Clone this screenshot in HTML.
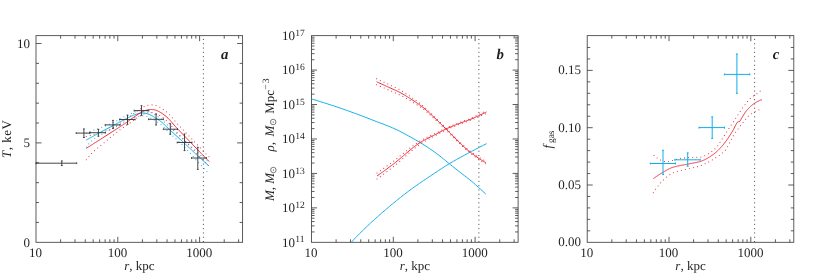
<!DOCTYPE html>
<html><head><meta charset="utf-8"><title>Profiles</title>
<style>
html,body{margin:0;padding:0;background:#fff;}
body{width:830px;height:279px;overflow:hidden;font-family:"Liberation Serif",serif;}
svg{display:block;will-change:transform;}
svg text{text-rendering:geometricPrecision;font-family:"Liberation Serif",serif;font-size:13px;fill:#231f20;}
</style></head><body>
<svg width="830" height="279" viewBox="0 0 830 279">
<rect width="830" height="279" fill="#fff"/>
<rect x="36" y="35.65" width="206.6" height="206.65" fill="none" stroke="#404040" stroke-width="0.85"/>
<path d="M60.62 35.65v3.0M60.62 242.3v-3.0M75.03 35.65v3.0M75.03 242.3v-3.0M85.25 35.65v3.0M85.25 242.3v-3.0M93.18 35.65v3.0M93.18 242.3v-3.0M99.65 35.65v3.0M99.65 242.3v-3.0M105.13 35.65v3.0M105.13 242.3v-3.0M109.87 35.65v3.0M109.87 242.3v-3.0M114.06 35.65v3.0M114.06 242.3v-3.0M117.8 35.65v5.5M117.8 242.3v-5.5M142.42 35.65v3.0M142.42 242.3v-3.0M156.83 35.65v3.0M156.83 242.3v-3.0M167.05 35.65v3.0M167.05 242.3v-3.0M174.98 35.65v3.0M174.98 242.3v-3.0M181.45 35.65v3.0M181.45 242.3v-3.0M186.93 35.65v3.0M186.93 242.3v-3.0M191.67 35.65v3.0M191.67 242.3v-3.0M195.86 35.65v3.0M195.86 242.3v-3.0M199.6 35.65v5.5M199.6 242.3v-5.5M224.22 35.65v3.0M224.22 242.3v-3.0M238.63 35.65v3.0M238.63 242.3v-3.0" stroke="#404040" stroke-width="0.85" fill="none"/>
<text x="35.6" y="256.5" text-anchor="middle">10</text>
<text x="117.4" y="256.5" text-anchor="middle">100</text>
<text x="199.2" y="256.5" text-anchor="middle">1000</text>
<text x="139.3" y="270.3" text-anchor="middle"><tspan font-style="italic">r</tspan>, kpc</text>
<line x1="203.4" y1="38.95" x2="203.4" y2="242.3" stroke="#444" stroke-width="1" stroke-dasharray="1 3.3"/>
<path d="M36 142.9h5.5M242.6 142.9h-5.5M36 43.5h5.5M242.6 43.5h-5.5M36 222.42h3M242.6 222.42h-3M36 202.54h3M242.6 202.54h-3M36 182.66h3M242.6 182.66h-3M36 162.78h3M242.6 162.78h-3M36 123.02h3M242.6 123.02h-3M36 103.14h3M242.6 103.14h-3M36 83.26h3M242.6 83.26h-3M36 63.38h3M242.6 63.38h-3" stroke="#404040" stroke-width="0.85" fill="none"/>
<text x="30.1" y="47.9" text-anchor="end">10</text>
<text x="30.1" y="246.7" text-anchor="end">0</text>
<text x="30.1" y="147.3" text-anchor="end">5</text>
<text transform="translate(10.8 138.9) rotate(-90)" text-anchor="middle" style="letter-spacing:0.5px"><tspan font-style="italic">T</tspan>, keV</text>
<text x="221" y="58.8" style="font-size:14.8px;font-style:italic;font-weight:bold">a</text>
<path d="M86.3 133.15 L87.33 132.72 L88.36 132.29 L89.39 131.87 L90.42 131.46 L91.46 131.04 L92.49 130.64 L93.52 130.24 L94.55 129.87 L95.58 129.54 L96.61 129.21 L97.64 128.89 L98.67 128.56 L99.7 128.24 L100.74 127.92 L101.77 127.61 L102.8 127.18 L103.83 126.72 L104.86 126.26 L105.89 125.8 L106.92 125.34 L107.95 124.88 L108.98 124.42 L110.02 123.96 L111.05 123.5 L112.08 123.05 L113.11 122.59 L114.14 122.13 L115.17 121.65 L116.2 121.11 L117.23 120.57 L118.26 120.03 L119.29 119.48 L120.33 118.94 L121.36 118.39 L122.39 117.85 L123.42 117.31 L124.45 116.77 L125.48 116.25 L126.51 115.73 L127.54 115.22 L128.57 114.72 L129.61 114.24 L130.64 113.77 L131.67 113.31 L132.7 112.87 L133.73 112.46 L134.76 112.07 L135.79 111.7 L136.82 111.37 L137.85 111.07 L138.89 110.81 L139.92 110.6 L140.95 110.45 L141.98 110.36 L143.01 110.34 L144.04 110.41 L145.07 110.55 L146.1 110.78 L147.13 111.07 L148.17 111.43 L149.2 111.85 L150.23 112.32 L151.26 112.81 L152.29 113.35 L153.32 113.93 L154.35 114.53 L155.38 115.14 L156.41 115.78 L157.45 116.42 L158.48 117.08 L159.51 117.78 L160.54 118.52 L161.57 119.32 L162.6 120.19 L163.63 121.12 L164.66 122.09 L165.69 123.09 L166.73 124.1 L167.76 125.1 L168.79 126.08 L169.82 127.04 L170.85 127.97 L171.88 128.89 L172.91 129.79 L173.94 130.7 L174.97 131.6 L176.01 132.51 L177.04 133.43 L178.07 134.35 L179.1 135.28 L180.13 136.21 L181.16 137.15 L182.19 138.09 L183.22 139.04 L184.25 139.98 L185.28 140.93 L186.32 141.89 L187.35 142.84 L188.38 143.8 L189.41 144.75 L190.44 145.71 L191.47 146.66 L192.5 147.62 L193.53 148.57 L194.56 149.53 L195.6 150.48 L196.63 151.42 L197.66 152.37 L198.69 153.31 L199.72 154.25 L200.75 155.18 L201.78 156.11 L202.81 157.03 L203.84 157.94 L204.88 158.85 L205.91 159.75 L206.94 160.65 L207.97 161.54 L209 162.41" fill="none" stroke="#0fafec" stroke-width="1.08" stroke-dasharray="0.01 4.1" stroke-linecap="round"/>
<path d="M86.3 147.18 L87.33 145.8 L88.36 144.44 L89.39 143.35 L90.42 142.29 L91.46 141.23 L92.49 140.27 L93.52 139.34 L94.55 138.41 L95.58 137.68 L96.61 137.12 L97.64 136.57 L98.67 136.01 L99.7 135.46 L100.74 134.91 L101.77 134.36 L102.8 133.81 L103.83 133.26 L104.86 132.72 L105.89 132.17 L106.92 131.62 L107.95 131.08 L108.98 130.53 L110.02 129.99 L111.05 129.44 L112.08 128.89 L113.11 128.35 L114.14 127.8 L115.17 127.25 L116.2 126.7 L117.23 126.16 L118.26 125.61 L119.29 125.06 L120.33 124.5 L121.36 123.95 L122.39 123.41 L123.42 122.86 L124.45 122.32 L125.48 121.79 L126.51 121.26 L127.54 120.75 L128.57 120.24 L129.61 119.75 L130.64 119.28 L131.67 118.82 L132.7 118.37 L133.73 117.95 L134.76 117.55 L135.79 117.18 L136.82 116.84 L137.85 116.54 L138.89 116.28 L139.92 116.06 L140.95 115.9 L141.98 115.81 L143.01 115.78 L144.04 115.84 L145.07 115.98 L146.1 116.2 L147.13 116.49 L148.17 116.84 L149.2 117.25 L150.23 117.73 L151.26 118.26 L152.29 118.83 L153.32 119.44 L154.35 120.08 L155.38 120.73 L156.41 121.4 L157.45 122.08 L158.48 122.78 L159.51 123.51 L160.54 124.29 L161.57 125.12 L162.6 126.03 L163.63 127 L164.66 128 L165.69 129.04 L166.73 130.08 L167.76 131.12 L168.79 132.14 L169.82 133.13 L170.85 134.1 L171.88 135.05 L172.91 136 L173.94 136.94 L174.97 137.88 L176.01 138.82 L177.04 139.77 L178.07 140.73 L179.1 141.7 L180.13 142.67 L181.16 143.64 L182.19 144.62 L183.22 145.6 L184.25 146.58 L185.28 147.62 L186.32 148.78 L187.35 149.94 L188.38 151.11 L189.41 152.27 L190.44 153.44 L191.47 154.6 L192.5 155.76 L193.53 156.93 L194.56 158.09 L195.6 159.25 L196.63 160.4 L197.66 161.56 L198.69 162.71 L199.72 163.85 L200.75 164.99 L201.78 166.13 L202.81 167.26 L203.84 168.38 L204.88 169.5 L205.91 170.61 L206.94 171.72 L207.97 172.81 L209 173.9" fill="none" stroke="#0fafec" stroke-width="1.08" stroke-dasharray="0.01 4.1" stroke-linecap="round"/>
<path d="M86.3 136.51 L87.33 136.21 L88.37 135.91 L89.4 135.61 L90.44 135.31 L91.47 135.02 L92.51 134.72 L93.54 134.43 L94.58 134.13 L95.61 133.84 L96.64 133.55 L97.68 133.26 L98.71 132.96 L99.75 132.67 L100.78 132.36 L101.82 132.04 L102.85 131.73 L103.89 131.41 L104.92 131.1 L105.95 130.78 L106.99 130.46 L108.02 130.15 L109.06 129.81 L110.09 129.2 L111.13 128.59 L112.16 127.98 L113.2 127.37 L114.23 126.76 L115.26 126.14 L116.3 125.53 L117.33 124.91 L118.37 124.29 L119.4 123.67 L120.44 123.05 L121.47 122.42 L122.51 121.78 L123.54 121.14 L124.57 120.5 L125.61 119.78 L126.64 119.01 L127.68 118.22 L128.71 117.44 L129.75 116.64 L130.78 115.84 L131.82 115.04 L132.85 114.25 L133.88 113.46 L134.92 112.67 L135.95 111.9 L136.99 111.13 L138.02 110.39 L139.06 109.67 L140.09 108.97 L141.13 108.32 L142.16 107.7 L143.19 107.14 L144.23 106.63 L145.26 106.18 L146.3 105.79 L147.33 105.47 L148.37 105.21 L149.4 105.02 L150.44 104.9 L151.47 104.87 L152.51 104.91 L153.54 105.02 L154.57 105.2 L155.61 105.46 L156.64 105.8 L157.68 106.21 L158.71 106.68 L159.75 107.22 L160.78 107.81 L161.82 108.44 L162.85 109.11 L163.88 109.83 L164.92 110.6 L165.95 111.42 L166.99 112.31 L168.02 113.26 L169.06 114.29 L170.09 115.38 L171.13 116.55 L172.16 117.75 L173.19 118.97 L174.23 120.18 L175.26 121.39 L176.3 122.57 L177.33 123.72 L178.37 124.83 L179.4 125.9 L180.44 126.98 L181.47 128.05 L182.5 129.13 L183.54 130.21 L184.57 131.3 L185.61 132.39 L186.64 133.48 L187.68 134.57 L188.71 135.66 L189.75 136.75 L190.78 137.85 L191.81 138.94 L192.85 140.04 L193.88 141.13 L194.92 142.23 L195.95 143.32 L196.99 144.41 L198.02 145.49 L199.06 146.58 L200.09 147.66 L201.12 148.74 L202.16 149.81 L203.19 150.88 L204.23 151.95 L205.26 153.01 L206.3 154.06 L207.33 155.11 L208.37 156.16 L209.4 157.19" fill="none" stroke="#ee2b38" stroke-width="1.08" stroke-dasharray="0.01 4.1" stroke-linecap="round"/>
<path d="M86.3 159.74 L87.33 158.53 L88.37 157.31 L89.4 156.1 L90.44 154.88 L91.47 153.67 L92.51 152.46 L93.54 151.44 L94.58 150.58 L95.61 149.73 L96.64 148.88 L97.68 148.03 L98.71 147.17 L99.75 146.32 L100.78 145.47 L101.82 144.62 L102.85 143.77 L103.89 142.92 L104.92 142.07 L105.95 141.22 L106.99 140.36 L108.02 139.51 L109.06 138.66 L110.09 137.8 L111.13 136.95 L112.16 136.09 L113.2 135.24 L114.23 134.38 L115.26 133.52 L116.3 132.67 L117.33 131.81 L118.37 130.94 L119.4 130.15 L120.44 129.48 L121.47 128.79 L122.51 128.11 L123.54 127.42 L124.57 126.72 L125.61 126.01 L126.64 125.3 L127.68 124.57 L128.71 123.84 L129.75 123.11 L130.78 122.37 L131.82 121.63 L132.85 120.89 L133.88 120.15 L134.92 119.43 L135.95 118.71 L136.99 118.01 L138.02 117.32 L139.06 116.65 L140.09 116.02 L141.13 115.42 L142.16 114.86 L143.19 114.36 L144.23 113.91 L145.26 113.52 L146.3 113.19 L147.33 112.92 L148.37 112.72 L149.4 112.58 L150.44 112.53 L151.47 112.58 L152.51 112.69 L153.54 112.87 L154.57 113.13 L155.61 113.45 L156.64 113.86 L157.68 114.34 L158.71 114.89 L159.75 115.5 L160.78 116.16 L161.82 116.87 L162.85 117.61 L163.88 118.4 L164.92 119.24 L165.95 120.14 L166.99 121.1 L168.02 122.13 L169.06 123.22 L170.09 124.38 L171.13 125.56 L172.16 126.78 L173.19 128.01 L174.23 129.24 L175.26 130.45 L176.3 131.65 L177.33 132.81 L178.37 133.93 L179.4 135.02 L180.44 136.11 L181.47 137.19 L182.5 138.29 L183.54 139.38 L184.57 140.48 L185.61 141.58 L186.64 142.68 L187.68 143.79 L188.71 144.89 L189.75 146 L190.78 147.11 L191.81 148.22 L192.85 149.32 L193.88 150.43 L194.92 151.54 L195.95 152.64 L196.99 153.74 L198.02 154.84 L199.06 155.94 L200.09 157.04 L201.12 158.13 L202.16 159.21 L203.19 160.3 L204.23 161.38 L205.26 162.45 L206.3 163.52 L207.33 164.58 L208.37 165.64 L209.4 166.69" fill="none" stroke="#ee2b38" stroke-width="1.08" stroke-dasharray="0.01 4.1" stroke-linecap="round"/>
<path d="M86.3 140.1 L87.33 139.5 L88.36 138.91 L89.39 138.32 L90.42 137.74 L91.46 137.16 L92.49 136.58 L93.52 136.01 L94.55 135.45 L95.58 134.88 L96.61 134.32 L97.64 133.77 L98.67 133.21 L99.7 132.66 L100.74 132.11 L101.77 131.56 L102.8 131.01 L103.83 130.46 L104.86 129.92 L105.89 129.37 L106.92 128.82 L107.95 128.28 L108.98 127.73 L110.02 127.19 L111.05 126.64 L112.08 126.09 L113.11 125.55 L114.14 125 L115.17 124.45 L116.2 123.9 L117.23 123.36 L118.26 122.81 L119.29 122.26 L120.33 121.7 L121.36 121.15 L122.39 120.61 L123.42 120.06 L124.45 119.52 L125.48 118.99 L126.51 118.46 L127.54 117.95 L128.57 117.44 L129.61 116.95 L130.64 116.48 L131.67 116.02 L132.7 115.57 L133.73 115.15 L134.76 114.75 L135.79 114.38 L136.82 114.04 L137.85 113.74 L138.89 113.48 L139.92 113.26 L140.95 113.1 L141.98 113.01 L143.01 112.98 L144.04 113.04 L145.07 113.18 L146.1 113.4 L147.13 113.69 L148.17 114.04 L149.2 114.45 L150.23 114.92 L151.26 115.43 L152.29 115.99 L153.32 116.58 L154.35 117.19 L155.38 117.83 L156.41 118.47 L157.45 119.13 L158.48 119.81 L159.51 120.52 L160.54 121.28 L161.57 122.09 L162.6 122.98 L163.63 123.92 L164.66 124.91 L165.69 125.93 L166.73 126.95 L167.76 127.97 L168.79 128.96 L169.82 129.93 L170.85 130.88 L171.88 131.82 L172.91 132.74 L173.94 133.66 L174.97 134.58 L176.01 135.5 L177.04 136.43 L178.07 137.37 L179.1 138.32 L180.13 139.26 L181.16 140.22 L182.19 141.17 L183.22 142.13 L184.25 143.1 L185.28 144.06 L186.32 145.03 L187.35 146 L188.38 146.97 L189.41 147.94 L190.44 148.92 L191.47 149.89 L192.5 150.86 L193.53 151.83 L194.56 152.79 L195.6 153.76 L196.63 154.72 L197.66 155.68 L198.69 156.64 L199.72 157.59 L200.75 158.54 L201.78 159.48 L202.81 160.42 L203.84 161.35 L204.88 162.28 L205.91 163.19 L206.94 164.1 L207.97 165.01 L209 165.9" fill="none" stroke="#0fafec" stroke-width="1.0" stroke-linejoin="round"/>
<path d="M86.3 148.4 L87.33 147.73 L88.37 147.06 L89.4 146.4 L90.44 145.73 L91.47 145.06 L92.51 144.4 L93.54 143.73 L94.58 143.07 L95.61 142.41 L96.64 141.75 L97.68 141.08 L98.71 140.42 L99.75 139.76 L100.78 139.1 L101.82 138.44 L102.85 137.78 L103.89 137.12 L104.92 136.46 L105.95 135.8 L106.99 135.13 L108.02 134.47 L109.06 133.81 L110.09 133.15 L111.13 132.49 L112.16 131.82 L113.2 131.16 L114.23 130.49 L115.26 129.83 L116.3 129.16 L117.33 128.5 L118.37 127.83 L119.4 127.15 L120.44 126.48 L121.47 125.79 L122.51 125.11 L123.54 124.42 L124.57 123.72 L125.61 123.01 L126.64 122.3 L127.68 121.57 L128.71 120.84 L129.75 120.11 L130.78 119.37 L131.82 118.63 L132.85 117.89 L133.88 117.15 L134.92 116.43 L135.95 115.71 L136.99 115.01 L138.02 114.32 L139.06 113.65 L140.09 113.02 L141.13 112.42 L142.16 111.86 L143.19 111.36 L144.23 110.91 L145.26 110.52 L146.3 110.19 L147.33 109.92 L148.37 109.72 L149.4 109.58 L150.44 109.51 L151.47 109.5 L152.51 109.56 L153.54 109.69 L154.57 109.9 L155.61 110.17 L156.64 110.53 L157.68 110.96 L158.71 111.46 L159.75 112.01 L160.78 112.62 L161.82 113.27 L162.85 113.97 L163.88 114.71 L164.92 115.5 L165.95 116.34 L166.99 117.25 L168.02 118.22 L169.06 119.27 L170.09 120.38 L171.13 121.54 L172.16 122.72 L173.19 123.93 L174.23 125.13 L175.26 126.32 L176.3 127.49 L177.33 128.63 L178.37 129.72 L179.4 130.79 L180.44 131.85 L181.47 132.91 L182.5 133.97 L183.54 135.04 L184.57 136.12 L185.61 137.19 L186.64 138.27 L187.68 139.35 L188.71 140.43 L189.75 141.51 L190.78 142.59 L191.81 143.67 L192.85 144.75 L193.88 145.83 L194.92 146.91 L195.95 147.99 L196.99 149.07 L198.02 150.14 L199.06 151.22 L200.09 152.28 L201.12 153.35 L202.16 154.41 L203.19 155.47 L204.23 156.52 L205.26 157.57 L206.3 158.61 L207.33 159.65 L208.37 160.68 L209.4 161.7" fill="none" stroke="#ee2b38" stroke-width="1.0" stroke-linejoin="round"/>
<path d="M36 163.2H76.7M61.8 160.9V165.6M60.9 160.9h1.8M60.9 165.6h1.8M36 162.3v1.8M76.7 162.3v1.8" fill="none" stroke="#333" stroke-width="0.9"/>
<path d="M76.2 133.1H89.8M83.9 128.9V137.5M83 128.9h1.8M83 137.5h1.8M76.2 132.2v1.8M89.8 132.2v1.8" fill="none" stroke="#333" stroke-width="0.9"/>
<path d="M89.8 132.7H105.3M98.4 129.4V136.2M97.5 129.4h1.8M97.5 136.2h1.8M89.8 131.8v1.8M105.3 131.8v1.8" fill="none" stroke="#333" stroke-width="0.9"/>
<path d="M105.2 124.9H120M113 120.4V128.4M112.1 120.4h1.8M112.1 128.4h1.8M105.2 124v1.8M120 124v1.8" fill="none" stroke="#333" stroke-width="0.9"/>
<path d="M119.6 119.5H135.1M127.5 115.2V124.3M126.6 115.2h1.8M126.6 124.3h1.8M119.6 118.6v1.8M135.1 118.6v1.8" fill="none" stroke="#333" stroke-width="0.9"/>
<path d="M134.2 110.6H148.8M141.5 105.7V115.4M140.6 105.7h1.8M140.6 115.4h1.8M134.2 109.7v1.8M148.8 109.7v1.8" fill="none" stroke="#333" stroke-width="0.9"/>
<path d="M148.6 119.3H163.4M156.1 114.1V125M155.2 114.1h1.8M155.2 125h1.8M148.6 118.4v1.8M163.4 118.4v1.8" fill="none" stroke="#333" stroke-width="0.9"/>
<path d="M163.4 129.2H177.5M170.3 123.7V134.4M169.4 123.7h1.8M169.4 134.4h1.8M163.4 128.3v1.8M177.5 128.3v1.8" fill="none" stroke="#333" stroke-width="0.9"/>
<path d="M177.2 142.5H192M184.5 134V150.6M183.6 134h1.8M183.6 150.6h1.8M177.2 141.6v1.8M192 141.6v1.8" fill="none" stroke="#333" stroke-width="0.9"/>
<path d="M191.5 158H206.4M197.8 147.3V169.4M196.9 147.3h1.8M196.9 169.4h1.8M191.5 157.1v1.8M206.4 157.1v1.8" fill="none" stroke="#333" stroke-width="0.9"/>
<rect x="311.5" y="35.65" width="206.6" height="206.65" fill="none" stroke="#404040" stroke-width="0.85"/>
<path d="M336.12 35.65v3.0M336.12 242.3v-3.0M350.53 35.65v3.0M350.53 242.3v-3.0M360.75 35.65v3.0M360.75 242.3v-3.0M368.68 35.65v3.0M368.68 242.3v-3.0M375.15 35.65v3.0M375.15 242.3v-3.0M380.63 35.65v3.0M380.63 242.3v-3.0M385.37 35.65v3.0M385.37 242.3v-3.0M389.56 35.65v3.0M389.56 242.3v-3.0M393.3 35.65v5.5M393.3 242.3v-5.5M417.92 35.65v3.0M417.92 242.3v-3.0M432.33 35.65v3.0M432.33 242.3v-3.0M442.55 35.65v3.0M442.55 242.3v-3.0M450.48 35.65v3.0M450.48 242.3v-3.0M456.95 35.65v3.0M456.95 242.3v-3.0M462.43 35.65v3.0M462.43 242.3v-3.0M467.17 35.65v3.0M467.17 242.3v-3.0M471.36 35.65v3.0M471.36 242.3v-3.0M475.1 35.65v5.5M475.1 242.3v-5.5M499.72 35.65v3.0M499.72 242.3v-3.0M514.13 35.65v3.0M514.13 242.3v-3.0" stroke="#404040" stroke-width="0.85" fill="none"/>
<text x="311.1" y="256.5" text-anchor="middle">10</text>
<text x="392.9" y="256.5" text-anchor="middle">100</text>
<text x="474.7" y="256.5" text-anchor="middle">1000</text>
<text x="414.8" y="270.3" text-anchor="middle"><tspan font-style="italic">r</tspan>, kpc</text>
<line x1="478.9" y1="38.95" x2="478.9" y2="242.3" stroke="#444" stroke-width="1" stroke-dasharray="1 3.3"/>
<path d="M311.5 207.86h5.5M518.1 207.86h-5.5M311.5 173.42h5.5M518.1 173.42h-5.5M311.5 138.97h5.5M518.1 138.97h-5.5M311.5 104.53h5.5M518.1 104.53h-5.5M311.5 70.09h5.5M518.1 70.09h-5.5M311.5 231.93h3M518.1 231.93h-3M311.5 225.87h3M518.1 225.87h-3M311.5 221.56h3M518.1 221.56h-3M311.5 218.23h3M518.1 218.23h-3M311.5 215.5h3M518.1 215.5h-3M311.5 213.19h3M518.1 213.19h-3M311.5 211.2h3M518.1 211.2h-3M311.5 209.43h3M518.1 209.43h-3M311.5 197.49h3M518.1 197.49h-3M311.5 191.43h3M518.1 191.43h-3M311.5 187.12h3M518.1 187.12h-3M311.5 183.78h3M518.1 183.78h-3M311.5 181.06h3M518.1 181.06h-3M311.5 178.75h3M518.1 178.75h-3M311.5 176.75h3M518.1 176.75h-3M311.5 174.99h3M518.1 174.99h-3M311.5 163.05h3M518.1 163.05h-3M311.5 156.98h3M518.1 156.98h-3M311.5 152.68h3M518.1 152.68h-3M311.5 149.34h3M518.1 149.34h-3M311.5 146.62h3M518.1 146.62h-3M311.5 144.31h3M518.1 144.31h-3M311.5 142.31h3M518.1 142.31h-3M311.5 140.55h3M518.1 140.55h-3M311.5 128.61h3M518.1 128.61h-3M311.5 122.54h3M518.1 122.54h-3M311.5 118.24h3M518.1 118.24h-3M311.5 114.9h3M518.1 114.9h-3M311.5 112.17h3M518.1 112.17h-3M311.5 109.87h3M518.1 109.87h-3M311.5 107.87h3M518.1 107.87h-3M311.5 106.11h3M518.1 106.11h-3M311.5 94.17h3M518.1 94.17h-3M311.5 88.1h3M518.1 88.1h-3M311.5 83.8h3M518.1 83.8h-3M311.5 80.46h3M518.1 80.46h-3M311.5 77.73h3M518.1 77.73h-3M311.5 75.43h3M518.1 75.43h-3M311.5 73.43h3M518.1 73.43h-3M311.5 71.67h3M518.1 71.67h-3M311.5 59.72h3M518.1 59.72h-3M311.5 53.66h3M518.1 53.66h-3M311.5 49.36h3M518.1 49.36h-3M311.5 46.02h3M518.1 46.02h-3M311.5 43.29h3M518.1 43.29h-3M311.5 40.99h3M518.1 40.99h-3M311.5 38.99h3M518.1 38.99h-3M311.5 37.23h3M518.1 37.23h-3" stroke="#404040" stroke-width="0.85" fill="none"/>
<text x="294.9" y="246.5" text-anchor="end">10</text><text x="295.2" y="242.4" style="font-size:9.6px">11</text>
<text x="294.9" y="212.06" text-anchor="end">10</text><text x="295.2" y="207.96" style="font-size:9.6px">12</text>
<text x="294.9" y="177.62" text-anchor="end">10</text><text x="295.2" y="173.52" style="font-size:9.6px">13</text>
<text x="294.9" y="143.17" text-anchor="end">10</text><text x="295.2" y="139.07" style="font-size:9.6px">14</text>
<text x="294.9" y="108.73" text-anchor="end">10</text><text x="295.2" y="104.63" style="font-size:9.6px">15</text>
<text x="294.9" y="74.29" text-anchor="end">10</text><text x="295.2" y="70.19" style="font-size:9.6px">16</text>
<text x="294.9" y="39.85" text-anchor="end">10</text><text x="295.2" y="35.75" style="font-size:9.6px">17</text>
<g transform="translate(274.0 0) rotate(-90)"><text x="-201" y="0" ><tspan font-style="italic">M</tspan>, <tspan font-style="italic">M</tspan></text><text x="-151.4" y="0" ><tspan font-style="italic">ρ</tspan>,</text><text x="-136.6" y="0" ><tspan font-style="italic">M</tspan></text><text x="-113.8" y="0" >Mpc</text><text x="-89.8" y="-4.6" style="font-size:9.6px">−</text><text x="-83.2" y="-4.6" style="font-size:9.6px">3</text></g>
<circle cx="273.4" cy="170" r="2.75" fill="none" stroke="#231f20" stroke-width="0.6"/><circle cx="273.4" cy="170" r="0.6" fill="#231f20"/>
<circle cx="273.2" cy="122" r="2.75" fill="none" stroke="#231f20" stroke-width="0.6"/><circle cx="273.2" cy="122" r="0.6" fill="#231f20"/>
<text x="496.5" y="58.8" style="font-size:14.8px;font-style:italic;font-weight:bold">b</text>
<path d="M311.5 99 L313.26 99.51 L315.02 100.03 L316.78 100.56 L318.54 101.09 L320.3 101.63 L322.06 102.17 L323.82 102.72 L325.58 103.27 L327.35 103.83 L329.11 104.4 L330.87 104.97 L332.63 105.54 L334.39 106.12 L336.15 106.71 L337.91 107.31 L339.67 107.91 L341.43 108.52 L343.19 109.13 L344.95 109.75 L346.71 110.37 L348.47 111 L350.23 111.63 L351.99 112.27 L353.75 112.91 L355.52 113.56 L357.28 114.21 L359.04 114.87 L360.8 115.53 L362.56 116.2 L364.32 116.87 L366.08 117.55 L367.84 118.23 L369.6 118.91 L371.36 119.59 L373.12 120.28 L374.88 120.96 L376.64 121.64 L378.4 122.31 L380.16 122.97 L381.92 123.63 L383.68 124.29 L385.45 124.96 L387.21 125.65 L388.97 126.35 L390.73 127.08 L392.49 127.84 L394.25 128.63 L396.01 129.45 L397.77 130.29 L399.53 131.16 L401.29 132.05 L403.05 132.96 L404.81 133.89 L406.57 134.83 L408.33 135.8 L410.09 136.78 L411.85 137.78 L413.62 138.79 L415.38 139.81 L417.14 140.84 L418.9 141.88 L420.66 142.93 L422.42 144.01 L424.18 145.1 L425.94 146.22 L427.7 147.36 L429.46 148.53 L431.22 149.72 L432.98 150.94 L434.74 152.18 L436.5 153.45 L438.26 154.77 L440.02 156.14 L441.78 157.55 L443.55 158.99 L445.31 160.44 L447.07 161.89 L448.83 163.32 L450.59 164.73 L452.35 166.15 L454.11 167.57 L455.87 168.99 L457.63 170.39 L459.39 171.76 L461.15 173.11 L462.91 174.45 L464.67 175.78 L466.43 177.13 L468.19 178.5 L469.95 179.91 L471.72 181.37 L473.48 182.89 L475.24 184.45 L477 186.03 L478.76 187.61 L480.52 189.21 L482.28 190.82 L484.04 192.45 L485.8 194.1" fill="none" stroke="#0fafec" stroke-width="1.0" stroke-linejoin="round"/>
<path d="M351.3 242.3 L352.67 240.83 L354.03 239.37 L355.4 237.92 L356.76 236.5 L358.13 235.09 L359.49 233.71 L360.86 232.35 L362.23 231 L363.59 229.68 L364.96 228.36 L366.32 227.06 L367.69 225.78 L369.05 224.5 L370.42 223.24 L371.78 221.98 L373.15 220.73 L374.52 219.49 L375.88 218.26 L377.25 217.03 L378.61 215.81 L379.98 214.6 L381.34 213.4 L382.71 212.21 L384.08 211.03 L385.44 209.85 L386.81 208.68 L388.17 207.52 L389.54 206.37 L390.9 205.23 L392.27 204.09 L393.64 202.96 L395 201.83 L396.37 200.71 L397.73 199.6 L399.1 198.5 L400.46 197.41 L401.83 196.33 L403.19 195.26 L404.56 194.2 L405.93 193.16 L407.29 192.13 L408.66 191.11 L410.02 190.11 L411.39 189.12 L412.75 188.13 L414.12 187.16 L415.49 186.19 L416.85 185.23 L418.22 184.28 L419.58 183.32 L420.95 182.37 L422.31 181.43 L423.68 180.49 L425.05 179.56 L426.41 178.63 L427.78 177.71 L429.14 176.79 L430.51 175.88 L431.87 174.97 L433.24 174.06 L434.61 173.16 L435.97 172.26 L437.34 171.36 L438.7 170.46 L440.07 169.56 L441.43 168.66 L442.8 167.77 L444.16 166.89 L445.53 166.02 L446.9 165.17 L448.26 164.33 L449.63 163.5 L450.99 162.7 L452.36 161.9 L453.72 161.11 L455.09 160.33 L456.46 159.57 L457.82 158.8 L459.19 158.05 L460.55 157.3 L461.92 156.56 L463.28 155.82 L464.65 155.08 L466.02 154.35 L467.38 153.62 L468.75 152.89 L470.11 152.17 L471.48 151.44 L472.84 150.72 L474.21 150 L475.57 149.28 L476.94 148.57 L478.31 147.86 L479.67 147.16 L481.04 146.46 L482.4 145.76 L483.77 145.07 L485.13 144.38 L486.5 143.7" fill="none" stroke="#0fafec" stroke-width="1.0" stroke-linejoin="round"/>
<path d="M376.6 78.81 L377.7 79.32 L378.81 79.82 L379.91 80.33 L381.01 80.85 L382.12 81.36 L383.22 81.87 L384.32 82.39 L385.42 82.91 L386.53 83.43 L387.63 83.95 L388.73 84.47 L389.84 85 L390.94 85.52 L392.04 86.04 L393.15 86.56 L394.25 87.07 L395.35 87.58 L396.45 88.11 L397.56 88.64 L398.66 89.19 L399.76 89.77 L400.87 90.4 L401.97 91.06 L403.07 91.74 L404.18 92.44 L405.28 93.16 L406.38 93.9 L407.48 94.64 L408.59 95.4 L409.69 96.16 L410.79 96.93 L411.9 97.7 L413 98.48 L414.1 99.25 L415.21 100.03 L416.31 100.81 L417.41 101.61 L418.52 102.41 L419.62 103.24 L420.72 104.07 L421.82 104.92 L422.93 105.8 L424.03 106.71 L425.13 107.66 L426.24 108.65 L427.34 109.67 L428.44 110.71 L429.55 111.77 L430.65 112.85 L431.75 113.93 L432.85 115.01 L433.96 116.08 L435.06 117.15 L436.16 118.23 L437.27 119.32 L438.37 120.42 L439.47 121.52 L440.58 122.61 L441.68 123.7 L442.78 124.79 L443.88 125.89 L444.99 127 L446.09 128.11 L447.19 129.22 L448.3 130.34 L449.4 131.47 L450.5 132.59 L451.61 133.73 L452.71 134.86 L453.81 135.99 L454.92 137.11 L456.02 138.23 L457.12 139.34 L458.22 140.43 L459.33 141.52 L460.43 142.59 L461.53 143.64 L462.64 144.67 L463.74 145.68 L464.84 146.68 L465.95 147.66 L467.05 148.63 L468.15 149.57 L469.25 150.48 L470.36 151.35 L471.46 152.15 L472.56 152.95 L473.67 153.72 L474.77 154.49 L475.87 155.24 L476.98 155.98 L478.08 156.7 L479.18 157.41 L480.28 158.09 L481.39 158.76 L482.49 159.41 L483.59 160.03 L484.7 160.63 L485.8 161.21" fill="none" stroke="#ee2b38" stroke-width="1.1" stroke-dasharray="0.01 4.1" stroke-linecap="round"/>
<path d="M376.6 84.79 L377.7 85.26 L378.81 85.73 L379.91 86.2 L381.01 86.68 L382.12 87.16 L383.22 87.63 L384.32 88.11 L385.42 88.6 L386.53 89.08 L387.63 89.56 L388.73 90.05 L389.84 90.53 L390.94 91.02 L392.04 91.51 L393.15 91.99 L394.25 92.46 L395.35 92.94 L396.45 93.42 L397.56 93.92 L398.66 94.44 L399.76 94.98 L400.87 95.51 L401.97 96.06 L403.07 96.64 L404.18 97.23 L405.28 97.84 L406.38 98.46 L407.48 99.09 L408.59 99.74 L409.69 100.39 L410.79 101.05 L411.9 101.71 L413 102.38 L414.1 103.04 L415.21 103.7 L416.31 104.38 L417.41 105.06 L418.52 105.76 L419.62 106.48 L420.72 107.23 L421.82 108.01 L422.93 108.82 L424.03 109.66 L425.13 110.55 L426.24 111.47 L427.34 112.43 L428.44 113.4 L429.55 114.4 L430.65 115.41 L431.75 116.42 L432.85 117.44 L433.96 118.44 L435.06 119.45 L436.16 120.46 L437.27 121.48 L438.37 122.51 L439.47 123.55 L440.58 124.61 L441.68 125.69 L442.78 126.77 L443.88 127.87 L444.99 128.97 L446.09 130.07 L447.19 131.17 L448.3 132.28 L449.4 133.4 L450.5 134.52 L451.61 135.65 L452.71 136.77 L453.81 137.89 L454.92 139.01 L456.02 140.12 L457.12 141.22 L458.22 142.31 L459.33 143.39 L460.43 144.45 L461.53 145.49 L462.64 146.52 L463.74 147.52 L464.84 148.51 L465.95 149.49 L467.05 150.45 L468.15 151.38 L469.25 152.29 L470.36 153.17 L471.46 154.05 L472.56 154.91 L473.67 155.75 L474.77 156.59 L475.87 157.41 L476.98 158.22 L478.08 159.01 L479.18 159.78 L480.28 160.54 L481.39 161.27 L482.49 161.99 L483.59 162.68 L484.7 163.35 L485.8 163.99" fill="none" stroke="#ee2b38" stroke-width="1.1" stroke-dasharray="0.01 4.1" stroke-linecap="round"/>
<path d="M376.6 81.8 L377.7 82.29 L378.81 82.78 L379.91 83.27 L381.01 83.76 L382.12 84.26 L383.22 84.75 L384.32 85.25 L385.42 85.75 L386.53 86.25 L387.63 86.76 L388.73 87.26 L389.84 87.77 L390.94 88.27 L392.04 88.77 L393.15 89.27 L394.25 89.76 L395.35 90.26 L396.45 90.77 L397.56 91.28 L398.66 91.82 L399.76 92.37 L400.87 92.96 L401.97 93.56 L403.07 94.19 L404.18 94.84 L405.28 95.5 L406.38 96.18 L407.48 96.87 L408.59 97.57 L409.69 98.28 L410.79 98.99 L411.9 99.71 L413 100.43 L414.1 101.14 L415.21 101.87 L416.31 102.59 L417.41 103.33 L418.52 104.09 L419.62 104.86 L420.72 105.65 L421.82 106.47 L422.93 107.31 L424.03 108.18 L425.13 109.1 L426.24 110.06 L427.34 111.05 L428.44 112.06 L429.55 113.09 L430.65 114.13 L431.75 115.18 L432.85 116.22 L433.96 117.26 L435.06 118.3 L436.16 119.34 L437.27 120.4 L438.37 121.46 L439.47 122.54 L440.58 123.61 L441.68 124.69 L442.78 125.78 L443.88 126.88 L444.99 127.99 L446.09 129.09 L447.19 130.2 L448.3 131.31 L449.4 132.43 L450.5 133.56 L451.61 134.69 L452.71 135.81 L453.81 136.94 L454.92 138.06 L456.02 139.17 L457.12 140.28 L458.22 141.37 L459.33 142.45 L460.43 143.52 L461.53 144.57 L462.64 145.59 L463.74 146.6 L464.84 147.59 L465.95 148.58 L467.05 149.54 L468.15 150.48 L469.25 151.39 L470.36 152.26 L471.46 153.1 L472.56 153.93 L473.67 154.74 L474.77 155.54 L475.87 156.33 L476.98 157.1 L478.08 157.86 L479.18 158.6 L480.28 159.32 L481.39 160.02 L482.49 160.7 L483.59 161.35 L484.7 161.99 L485.8 162.6" fill="none" stroke="#ee2b38" stroke-width="1.0" stroke-linejoin="round"/>
<path d="M377 173.02 L378.11 172.26 L379.21 171.49 L380.32 170.72 L381.42 169.95 L382.53 169.18 L383.64 168.4 L384.74 167.61 L385.85 166.82 L386.95 166.03 L388.06 165.23 L389.17 164.43 L390.27 163.62 L391.38 162.81 L392.48 161.99 L393.59 161.17 L394.7 160.33 L395.8 159.47 L396.91 158.59 L398.02 157.7 L399.12 156.79 L400.23 155.88 L401.33 154.99 L402.44 154.09 L403.55 153.2 L404.65 152.3 L405.76 151.4 L406.86 150.51 L407.97 149.62 L409.08 148.74 L410.18 147.88 L411.29 147.02 L412.39 146.19 L413.5 145.37 L414.61 144.57 L415.71 143.8 L416.82 143.05 L417.92 142.33 L419.03 141.64 L420.14 140.98 L421.24 140.33 L422.35 139.71 L423.45 139.11 L424.56 138.53 L425.67 137.97 L426.77 137.42 L427.88 136.89 L428.98 136.36 L430.09 135.84 L431.2 135.32 L432.3 134.8 L433.41 134.28 L434.52 133.75 L435.62 133.22 L436.73 132.68 L437.83 132.13 L438.94 131.57 L440.05 131.01 L441.15 130.43 L442.26 129.85 L443.36 129.29 L444.47 128.74 L445.58 128.22 L446.68 127.71 L447.79 127.22 L448.89 126.74 L450 126.27 L451.11 125.8 L452.21 125.35 L453.32 124.9 L454.42 124.46 L455.53 124.03 L456.64 123.59 L457.74 123.16 L458.85 122.73 L459.95 122.31 L461.06 121.89 L462.17 121.48 L463.27 121.08 L464.38 120.69 L465.48 120.29 L466.59 119.9 L467.7 119.49 L468.8 119.08 L469.91 118.66 L471.02 118.18 L472.12 117.68 L473.23 117.17 L474.33 116.65 L475.44 116.12 L476.55 115.58 L477.65 115.03 L478.76 114.48 L479.86 113.93 L480.97 113.37 L482.08 112.81 L483.18 112.24 L484.29 111.66 L485.39 111.08 L486.5 110.5" fill="none" stroke="#ee2b38" stroke-width="1.1" stroke-dasharray="0.01 4.1" stroke-linecap="round"/>
<path d="M377 178.98 L378.11 178.19 L379.21 177.38 L380.32 176.58 L381.42 175.77 L382.53 174.96 L383.64 174.14 L384.74 173.32 L385.85 172.5 L386.95 171.67 L388.06 170.83 L389.17 169.99 L390.27 169.15 L391.38 168.3 L392.48 167.44 L393.59 166.58 L394.7 165.71 L395.8 164.81 L396.91 163.89 L398.02 162.96 L399.12 162.02 L400.23 161.06 L401.33 160.06 L402.44 159.05 L403.55 158.04 L404.65 157.03 L405.76 156.02 L406.86 155.02 L407.97 154.02 L409.08 153.03 L410.18 152.06 L411.29 151.09 L412.39 150.15 L413.5 149.22 L414.61 148.31 L415.71 147.43 L416.82 146.57 L417.92 145.74 L419.03 144.94 L420.14 144.17 L421.24 143.46 L422.35 142.77 L423.45 142.11 L424.56 141.46 L425.67 140.83 L426.77 140.22 L427.88 139.61 L428.98 139.02 L430.09 138.43 L431.2 137.85 L432.3 137.26 L433.41 136.67 L434.52 136.08 L435.62 135.48 L436.73 134.87 L437.83 134.26 L438.94 133.63 L440.05 133.01 L441.15 132.42 L442.26 131.84 L443.36 131.27 L444.47 130.71 L445.58 130.18 L446.68 129.67 L447.79 129.17 L448.89 128.68 L450 128.2 L451.11 127.73 L452.21 127.27 L453.32 126.81 L454.42 126.37 L455.53 125.92 L456.64 125.48 L457.74 125.05 L458.85 124.61 L459.95 124.17 L461.06 123.75 L462.17 123.33 L463.27 122.93 L464.38 122.52 L465.48 122.12 L466.59 121.72 L467.7 121.31 L468.8 120.89 L469.91 120.46 L471.02 120.04 L472.12 119.62 L473.23 119.18 L474.33 118.72 L475.44 118.26 L476.55 117.79 L477.65 117.31 L478.76 116.83 L479.86 116.34 L480.97 115.86 L482.08 115.36 L483.18 114.86 L484.29 114.35 L485.39 113.84 L486.5 113.3" fill="none" stroke="#ee2b38" stroke-width="1.1" stroke-dasharray="0.01 4.1" stroke-linecap="round"/>
<path d="M377 176 L378.11 175.22 L379.21 174.44 L380.32 173.65 L381.42 172.86 L382.53 172.07 L383.64 171.27 L384.74 170.47 L385.85 169.66 L386.95 168.85 L388.06 168.03 L389.17 167.21 L390.27 166.39 L391.38 165.56 L392.48 164.72 L393.59 163.88 L394.7 163.02 L395.8 162.14 L396.91 161.24 L398.02 160.33 L399.12 159.4 L400.23 158.47 L401.33 157.52 L402.44 156.57 L403.55 155.62 L404.65 154.67 L405.76 153.71 L406.86 152.76 L407.97 151.82 L409.08 150.89 L410.18 149.97 L411.29 149.06 L412.39 148.17 L413.5 147.29 L414.61 146.44 L415.71 145.61 L416.82 144.81 L417.92 144.03 L419.03 143.29 L420.14 142.58 L421.24 141.9 L422.35 141.24 L423.45 140.61 L424.56 140 L425.67 139.4 L426.77 138.82 L427.88 138.25 L428.98 137.69 L430.09 137.13 L431.2 136.58 L432.3 136.03 L433.41 135.48 L434.52 134.92 L435.62 134.35 L436.73 133.78 L437.83 133.19 L438.94 132.6 L440.05 132.01 L441.15 131.43 L442.26 130.85 L443.36 130.28 L444.47 129.73 L445.58 129.2 L446.68 128.69 L447.79 128.19 L448.89 127.71 L450 127.23 L451.11 126.77 L452.21 126.31 L453.32 125.86 L454.42 125.41 L455.53 124.97 L456.64 124.54 L457.74 124.1 L458.85 123.67 L459.95 123.24 L461.06 122.82 L462.17 122.41 L463.27 122 L464.38 121.6 L465.48 121.21 L466.59 120.81 L467.7 120.4 L468.8 119.99 L469.91 119.56 L471.02 119.11 L472.12 118.65 L473.23 118.17 L474.33 117.69 L475.44 117.19 L476.55 116.69 L477.65 116.17 L478.76 115.66 L479.86 115.14 L480.97 114.61 L482.08 114.09 L483.18 113.55 L484.29 113.01 L485.39 112.46 L486.5 111.9" fill="none" stroke="#ee2b38" stroke-width="1.0" stroke-linejoin="round"/>
<rect x="587.2" y="35.65" width="206.6" height="206.65" fill="none" stroke="#404040" stroke-width="0.85"/>
<path d="M611.82 35.65v3.0M611.82 242.3v-3.0M626.23 35.65v3.0M626.23 242.3v-3.0M636.45 35.65v3.0M636.45 242.3v-3.0M644.38 35.65v3.0M644.38 242.3v-3.0M650.85 35.65v3.0M650.85 242.3v-3.0M656.33 35.65v3.0M656.33 242.3v-3.0M661.07 35.65v3.0M661.07 242.3v-3.0M665.26 35.65v3.0M665.26 242.3v-3.0M669 35.65v5.5M669 242.3v-5.5M693.62 35.65v3.0M693.62 242.3v-3.0M708.03 35.65v3.0M708.03 242.3v-3.0M718.25 35.65v3.0M718.25 242.3v-3.0M726.18 35.65v3.0M726.18 242.3v-3.0M732.65 35.65v3.0M732.65 242.3v-3.0M738.13 35.65v3.0M738.13 242.3v-3.0M742.87 35.65v3.0M742.87 242.3v-3.0M747.06 35.65v3.0M747.06 242.3v-3.0M750.8 35.65v5.5M750.8 242.3v-5.5M775.42 35.65v3.0M775.42 242.3v-3.0M789.83 35.65v3.0M789.83 242.3v-3.0" stroke="#404040" stroke-width="0.85" fill="none"/>
<text x="586.8" y="256.5" text-anchor="middle">10</text>
<text x="668.6" y="256.5" text-anchor="middle">100</text>
<text x="750.4" y="256.5" text-anchor="middle">1000</text>
<text x="690.5" y="270.3" text-anchor="middle"><tspan font-style="italic">r</tspan>, kpc</text>
<line x1="754.6" y1="38.95" x2="754.6" y2="242.3" stroke="#444" stroke-width="1" stroke-dasharray="1 3.3"/>
<path d="M587.2 185h5.5M793.8 185h-5.5M587.2 127.7h5.5M793.8 127.7h-5.5M587.2 70.4h5.5M793.8 70.4h-5.5M587.2 230.84h3M793.8 230.84h-3M587.2 219.38h3M793.8 219.38h-3M587.2 207.92h3M793.8 207.92h-3M587.2 196.46h3M793.8 196.46h-3M587.2 173.54h3M793.8 173.54h-3M587.2 162.08h3M793.8 162.08h-3M587.2 150.62h3M793.8 150.62h-3M587.2 139.16h3M793.8 139.16h-3M587.2 116.24h3M793.8 116.24h-3M587.2 104.78h3M793.8 104.78h-3M587.2 93.32h3M793.8 93.32h-3M587.2 81.86h3M793.8 81.86h-3M587.2 58.94h3M793.8 58.94h-3M587.2 47.48h3M793.8 47.48h-3" stroke="#404040" stroke-width="0.85" fill="none"/>
<text x="581" y="246.1" text-anchor="end">0.00</text>
<text x="581" y="188.8" text-anchor="end">0.05</text>
<text x="581" y="131.5" text-anchor="end">0.10</text>
<text x="581" y="74.2" text-anchor="end">0.15</text>
<g transform="translate(551.7 0) rotate(-90)"><text x="-148.6" y="0" font-style="italic">f</text><text x="-143.0" y="2.0" style="font-size:9.4px">gas</text></g>
<text x="772.8" y="58.8" style="font-size:14.8px;font-style:italic;font-weight:bold">c</text>
<path d="M654 155.3 L655.37 156.56 L656.73 157.71 L658.1 158.72 L659.47 159.55 L660.84 160.19 L662.2 160.77 L663.57 161.29 L664.94 161.66 L666.3 161.8 L667.67 161.71 L669.04 161.46 L670.41 161.11 L671.77 160.7 L673.14 160.26 L674.51 159.85 L675.87 159.51 L677.24 159.16 L678.61 158.79 L679.97 158.45 L681.34 158.17 L682.71 157.99 L684.08 157.88 L685.44 157.78 L686.81 157.7 L688.18 157.64 L689.54 157.58 L690.91 157.52 L692.28 157.47 L693.65 157.43 L695.01 157.39 L696.38 157.36 L697.75 157.32 L699.11 157.26 L700.48 157.18 L701.85 156.91 L703.22 156.45 L704.58 155.83 L705.95 155.12 L707.32 154.37 L708.68 153.62 L710.05 152.78 L711.42 151.82 L712.78 150.76 L714.15 149.57 L715.52 148.28 L716.89 146.79 L718.25 144.98 L719.62 142.94 L720.99 140.76 L722.35 138.56 L723.72 136.42 L725.09 134.37 L726.46 132.3 L727.82 130.21 L729.19 128.11 L730.56 126.02 L731.92 123.93 L733.29 121.86 L734.66 119.77 L736.03 117.66 L737.39 115.55 L738.76 113.48 L740.13 111.47 L741.49 109.55 L742.86 107.66 L744.23 105.78 L745.59 103.94 L746.96 102.18 L748.33 100.55 L749.7 99.09 L751.06 97.83 L752.43 96.73 L753.8 95.74 L755.16 94.8 L756.53 93.87 L757.9 92.89 L759.27 91.82 L760.63 90.68 L762 89.5" fill="none" stroke="#ee2b38" stroke-width="1.08" stroke-dasharray="0.01 4.1" stroke-linecap="round"/>
<path d="M653.3 192.7 L654.66 190.66 L656.03 188.7 L657.39 186.84 L658.75 185.09 L660.12 183.48 L661.48 182.02 L662.84 180.66 L664.21 179.32 L665.57 178.05 L666.93 176.85 L668.3 175.75 L669.66 174.77 L671.02 173.93 L672.39 173.26 L673.75 172.71 L675.11 172.21 L676.48 171.76 L677.84 171.36 L679.2 170.99 L680.57 170.64 L681.93 170.31 L683.29 169.99 L684.66 169.66 L686.02 169.33 L687.38 168.98 L688.75 168.63 L690.11 168.31 L691.47 168.01 L692.84 167.71 L694.2 167.4 L695.56 167.09 L696.93 166.75 L698.29 166.38 L699.65 165.98 L701.02 165.52 L702.38 165 L703.74 164.42 L705.11 163.8 L706.47 163.13 L707.83 162.42 L709.19 161.67 L710.56 160.9 L711.92 160.1 L713.28 159.29 L714.65 158.47 L716.01 157.65 L717.37 156.79 L718.74 155.88 L720.1 154.91 L721.46 153.85 L722.83 152.68 L724.19 151.38 L725.55 149.94 L726.92 148.01 L728.28 145.51 L729.64 142.71 L731.01 139.87 L732.37 137.25 L733.73 135.06 L735.1 133.02 L736.46 131.09 L737.82 129.23 L739.19 127.44 L740.55 125.71 L741.91 124.01 L743.28 122.27 L744.64 120.53 L746 118.84 L747.37 117.27 L748.73 115.9 L750.09 114.77 L751.46 113.84 L752.82 112.94 L754.18 112.09 L755.55 111.32 L756.91 110.65 L758.27 110.09 L759.64 109.67 L761 109.4" fill="none" stroke="#ee2b38" stroke-width="1.08" stroke-dasharray="0.01 4.1" stroke-linecap="round"/>
<path d="M653.3 178.7 L653.72 178.39 L654.14 178.09 L654.56 177.79 L654.98 177.49 L655.4 177.19 L655.82 176.9 L656.24 176.61 L656.66 176.32 L657.08 176.03 L657.5 175.75 L657.92 175.47 L658.34 175.19 L658.76 174.91 L659.18 174.64 L659.6 174.37 L660.02 174.11 L660.43 173.84 L660.85 173.58 L661.27 173.33 L661.69 173.07 L662.11 172.82 L662.53 172.57 L662.95 172.33 L663.37 172.08 L663.79 171.84 L664.21 171.59 L664.63 171.34 L665.05 171.09 L665.47 170.85 L665.89 170.6 L666.31 170.36 L666.73 170.12 L667.15 169.88 L667.57 169.64 L667.99 169.41 L668.41 169.19 L668.83 168.97 L669.25 168.76 L669.67 168.56 L670.09 168.36 L670.51 168.18 L670.93 168 L671.35 167.84 L671.77 167.68 L672.19 167.54 L672.61 167.4 L673.03 167.27 L673.45 167.15 L673.86 167.03 L674.28 166.91 L674.7 166.8 L675.12 166.69 L675.54 166.58 L675.96 166.48 L676.38 166.37 L676.8 166.28 L677.22 166.18 L677.64 166.09 L678.06 166 L678.48 165.91 L678.9 165.82 L679.32 165.73 L679.74 165.65 L680.16 165.56 L680.58 165.48 L681 165.4 L681.42 165.32 L681.84 165.24 L682.26 165.16 L682.68 165.08 L683.1 165.01 L683.52 164.93 L683.94 164.85 L684.36 164.77 L684.78 164.69 L685.2 164.61 L685.62 164.53 L686.04 164.44 L686.46 164.36 L686.88 164.27 L687.29 164.19 L687.71 164.1 L688.13 164.01 L688.55 163.92 L688.97 163.84 L689.39 163.76 L689.81 163.68 L690.23 163.6 L690.65 163.52 L691.07 163.45 L691.49 163.37 L691.91 163.3 L692.33 163.22 L692.75 163.15 L693.17 163.07 L693.59 163 L694.01 162.92 L694.43 162.84 L694.85 162.76 L695.27 162.68 L695.69 162.6 L696.11 162.51 L696.53 162.43 L696.95 162.33 L697.37 162.24 L697.79 162.14 L698.21 162.04 L698.63 161.94 L699.05 161.83 L699.47 161.71 L699.89 161.59 L700.31 161.47 L700.73 161.34 L701.14 161.2 L701.56 161.05 L701.98 160.89 L702.4 160.73 L702.82 160.56 L703.24 160.38 L703.66 160.2 L704.08 160 L704.5 159.81 L704.92 159.6 L705.34 159.39 L705.76 159.17 L706.18 158.95 L706.6 158.72 L707.02 158.49 L707.44 158.25 L707.86 158 L708.28 157.75 L708.7 157.5 L709.12 157.24 L709.54 156.98 L709.96 156.71 L710.38 156.44 L710.8 156.16 L711.22 155.89 L711.64 155.6 L712.06 155.32 L712.48 155.03 L712.9 154.74 L713.32 154.45 L713.74 154.14 L714.16 153.83 L714.57 153.5 L714.99 153.16 L715.41 152.8 L715.83 152.44 L716.25 152.07 L716.67 151.69 L717.09 151.3 L717.51 150.89 L717.93 150.49 L718.35 150.07 L718.77 149.64 L719.19 149.21 L719.61 148.77 L720.03 148.32 L720.45 147.87 L720.87 147.41 L721.29 146.94 L721.71 146.47 L722.13 145.99 L722.55 145.51 L722.97 145.02 L723.39 144.52 L723.81 144 L724.23 143.47 L724.65 142.94 L725.07 142.39 L725.49 141.83 L725.91 141.27 L726.33 140.69 L726.75 140.1 L727.17 139.51 L727.59 138.9 L728.01 138.29 L728.42 137.67 L728.84 137.03 L729.26 136.4 L729.68 135.75 L730.1 135.1 L730.52 134.44 L730.94 133.77 L731.36 133.09 L731.78 132.41 L732.2 131.72 L732.62 131.03 L733.04 130.33 L733.46 129.58 L733.88 128.78 L734.3 127.94 L734.72 127.07 L735.14 126.21 L735.56 125.37 L735.98 124.57 L736.4 123.83 L736.82 123.17 L737.24 122.52 L737.66 121.97 L738.08 121.74 L738.5 121.65 L738.92 121.59 L739.34 121.52 L739.76 121.37 L740.18 120.78 L740.6 120.01 L741.02 119.33 L741.44 118.64 L741.85 117.92 L742.27 117.2 L742.69 116.47 L743.11 115.75 L743.53 115.03 L743.95 114.34 L744.37 113.66 L744.79 113.02 L745.21 112.41 L745.63 111.84 L746.05 111.32 L746.47 110.81 L746.89 110.32 L747.31 109.83 L747.73 109.35 L748.15 108.89 L748.57 108.43 L748.99 107.99 L749.41 107.55 L749.83 107.13 L750.25 106.72 L750.67 106.32 L751.09 105.94 L751.51 105.57 L751.93 105.2 L752.35 104.86 L752.77 104.52 L753.19 104.21 L753.61 103.9 L754.03 103.61 L754.45 103.33 L754.87 103.07 L755.28 102.81 L755.7 102.56 L756.12 102.31 L756.54 102.06 L756.96 101.83 L757.38 101.6 L757.8 101.38 L758.22 101.16 L758.64 100.96 L759.06 100.76 L759.48 100.58 L759.9 100.4 L760.32 100.24 L760.74 100.09 L761.16 99.94 L761.58 99.82 L762 99.7" fill="none" stroke="#ee2b38" stroke-width="1.0" stroke-linejoin="round"/>
<path d="M650.3 163.5H675.5M663 150.3V174.4M662 150.3h2.0M662 174.4h2.0M650.3 162.5v2.0M675.5 162.5v2.0" fill="none" stroke="#0fafec" stroke-width="1.0"/>
<path d="M674.8 159.8H700.2M687.7 152.9V166.2M686.7 152.9h2.0M686.7 166.2h2.0M674.8 158.8v2.0M700.2 158.8v2.0" fill="none" stroke="#0fafec" stroke-width="1.0"/>
<path d="M699 127.6H724.5M712.2 116.9V138.4M711.2 116.9h2.0M711.2 138.4h2.0M699 126.6v2.0M724.5 126.6v2.0" fill="none" stroke="#0fafec" stroke-width="1.0"/>
<path d="M724.4 74.4H749.8M736.9 54V93.3M735.9 54h2.0M735.9 93.3h2.0M724.4 73.4v2.0M749.8 73.4v2.0" fill="none" stroke="#0fafec" stroke-width="1.0"/>
</svg>
</body></html>
